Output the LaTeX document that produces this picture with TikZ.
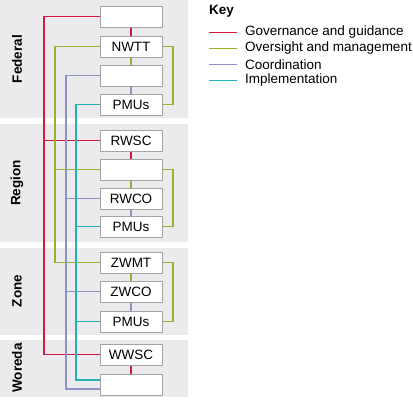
\documentclass[tikz,border=0pt]{standalone}
\usepackage{fontspec}
\setmainfont{Liberation Sans}
\definecolor{govred}{HTML}{D6193F}
\definecolor{ovsgreen}{HTML}{95B22A}
\definecolor{crdblue}{HTML}{8C92C6}
\definecolor{impteal}{HTML}{22B2B4}
\definecolor{bandgray}{HTML}{EBEBED}
\definecolor{boxgray}{HTML}{A4A4A4}
\tikzset{
    band/.style={fill=bandgray, draw=none},
    org/.style={rectangle, draw=boxgray, line width=1pt, fill=white, minimum width=62pt, minimum height=21pt, inner sep=0pt, font=\fontsize{13.5}{15}\selectfont},
    level/.style={rotate=90, font=\fontsize{13.5}{15}\selectfont\bfseries},
    gov/.style={govred, line width=1.6pt},
    ovs/.style={ovsgreen, line width=1.6pt},
    crd/.style={crdblue, line width=1.6pt},
    imp/.style={impteal, line width=1.6pt},
    keytext/.style={anchor=west, inner sep=0pt, font=\fontsize{13.5}{15}\selectfont}
}

\begin{document}
\begin{tikzpicture}[x=1pt, y=-1pt]
        \useasboundingbox (0,0) rectangle (413,400);

        % Level bands
        \fill[band] (0,0) rectangle (188,118);
        \fill[band] (0,124) rectangle (188,242);
        \fill[band] (0,248) rectangle (188,335);
        \fill[band] (0,340) rectangle (188,397);
        \node[level] (federal) at (17,59) {Federal};
        \node[level] (region) at (17,183) {Region};
        \node[level] (zone) at (17,291) {Zone};
        \node[level] (woreda) at (17,368) {Woreda};

        % Draw nodes
        \node[org] (f1) at (131,16.5) {};
        \node[org] (nwtt) at (131,46.5) {NWTT};
        \node[org] (f3) at (131,75.5) {};
        \node[org] (fpmu) at (131,104.5) {PMUs};
        \node[org] (rwsc) at (131,140.5) {RWSC};
        \node[org] (r2) at (131,169.5) {};
        \node[org] (rwco) at (131,198.5) {RWCO};
        \node[org] (rpmu) at (131,226.5) {PMUs};
        \node[org] (zwmt) at (131,262.5) {ZWMT};
        \node[org] (zwco) at (131,291.5) {ZWCO};
        \node[org] (zpmu) at (131,321.5) {PMUs};
        \node[org] (wwsc) at (131,354.5) {WWSC};
        \node[org] (w2) at (131,384.5) {};

        % Draw connections
        \draw[gov] (f1.west) -- ++(-55.5,0) |- (wwsc.west);
        \draw[gov] (rwsc.west) -- ++(-55.5,0);
        \draw[gov] (f1) -- (nwtt);
        \draw[gov] (rwsc) -- (r2);
        \draw[gov] (wwsc) -- (w2);

        \draw[ovs] (nwtt.west) -- ++(-44.5,0) |- (zwmt.west);
        \draw[ovs] (r2.west) -- ++(-44.5,0);
        \draw[ovs] (nwtt) -- (f3);
        \draw[ovs] (r2) -- (rwco);
        \draw[ovs] (zwmt) -- (zwco);
        \draw[ovs] (nwtt.east) -- ++(10.5,0) |- (fpmu.east);
        \draw[ovs] (r2.east) -- ++(10.5,0) |- (rpmu.east);
        \draw[ovs] (zwmt.east) -- ++(10.5,0) |- (zpmu.east);

        \draw[crd] (f3.west) -- ++(-33.5,0) |- ([yshift=-4.5pt]w2.west);
        \draw[crd] (rwco.west) -- ++(-33.5,0);
        \draw[crd] (zwco.west) -- ++(-33.5,0);
        \draw[crd] (f3) -- (fpmu);
        \draw[crd] (rwco) -- (rpmu);
        \draw[crd] (zwco) -- (zpmu);

        \draw[imp] (fpmu.west) -- ++(-23.5,0) |- ([yshift=4.5pt]w2.west);
        \draw[imp] (rpmu.west) -- ++(-23.5,0);
        \draw[imp] (zpmu.west) -- ++(-23.5,0);

        % Key
        \node[anchor=west, inner sep=0pt, font=\fontsize{13.5}{15}\selectfont\bfseries] (key) at (209,11) {Key};
        \node[keytext] (k1) at (245,32.5) {Governance and guidance};
        \node[keytext] (k2) at (245,48.5) {Oversight and management};
        \node[keytext] (k3) at (245,64.5) {Coordination};
        \node[keytext] (k4) at (245,80.5) {Implementation};
        \draw[gov] ([xshift=-8pt]k1.west) -- ++(-28,0);
        \draw[ovs] ([xshift=-8pt]k2.west) -- ++(-28,0);
        \draw[crd] ([xshift=-8pt]k3.west) -- ++(-28,0);
        \draw[imp] ([xshift=-8pt]k4.west) -- ++(-28,0);
    \end{tikzpicture}
\end{document}
